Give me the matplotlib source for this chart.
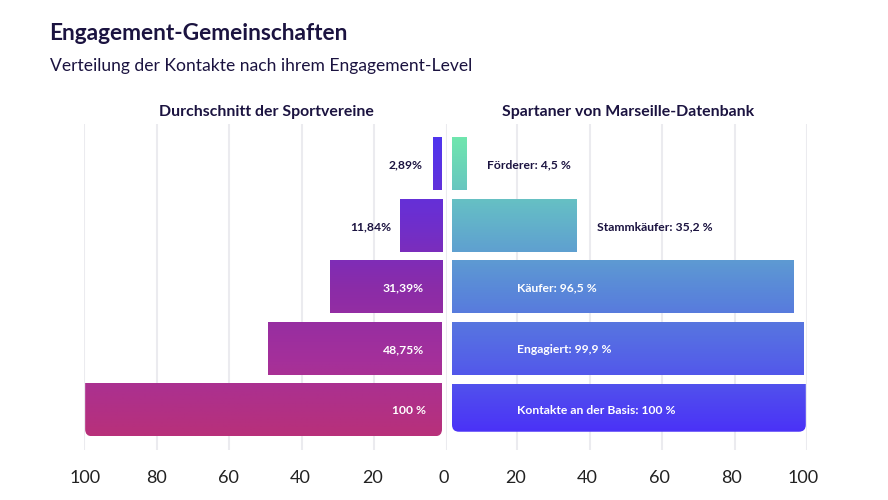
import matplotlib

matplotlib.use("Agg")
import matplotlib.pyplot as plt
import numpy as np
from matplotlib.colors import LinearSegmentedColormap
from matplotlib.patches import FancyBboxPatch

W, H = 888, 500
TITLE = "Engagement-Gemeinschaften"
SUBTITLE = "Verteilung der Kontakte nach ihrem Engagement-Level"
LEFT_HEADER = "Durchschnitt der Sportvereine"
RIGHT_HEADER = "Spartaner von Marseille-Datenbank"

# bar lengths as drawn in the picture, a little off the printed labels
left_values = [2.4, 11.84, 31.39, 48.75, 100]
right_values = [4.2, 35.2, 96.5, 99.4, 100]
left_labels = ["2,89%", "11,84%", "31,39%", "48,75%", "100 %"]
right_labels = [
    "Förderer: 4,5 %",
    "Stammkäufer: 35,2 %",
    "Käufer: 96,5 %",
    "Engagiert: 99,9 %",
    "Kontakte an der Basis: 100 %",
]
tick_values = [-100, -80, -60, -40, -20, 0, 20, 40, 60, 80, 100]

# label anchors in axis units, the original places them by hand
left_label_x = [6.6, 15.4, 6.3, 6.3, 5.8]
right_label_x = [11.7, 42, 20, 20, 20]
LABEL_DROP = 0.015

INK = "#1b1340"
LEFT_BASE = 1.38
RIGHT_BASE = 2.07
BAR_HEIGHT = 0.854
RADIUS_PX = 7

left_cmap = LinearSegmentedColormap.from_list(
    "left", ["#4f35ee", "#6a2fd2", "#8a2ca8", "#a5309a", "#b8307a"]
)
right_cmap = LinearSegmentedColormap.from_list(
    "right", ["#70e6ae", "#64b8c8", "#5a8ad8", "#5460e8", "#4a2ff8"]
)

plt.rcParams["font.family"] = ["Lato", "DejaVu Sans"]


def px_axes(fig, x0, x1, y0, y1):
    """Add axes from pixel edges, y counted from the top."""
    return fig.add_axes([x0 / W, 1 - y1 / H, (x1 - x0) / W, (y1 - y0) / H])


def gradient_bars(ax, values, base, heights, cmap, stretch):
    """Draw bars, then fill them with one vertical gradient over all rows."""
    top_edge, bottom_edge = -0.427, 4.427
    xs_to_px = abs(ax.transData.transform((1, 0))[0] - ax.transData.transform((0, 0))[0])
    ys_to_px = abs(ax.transData.transform((0, 1))[1] - ax.transData.transform((0, 0))[1])
    for i, (value, height) in enumerate(zip(values, heights)):
        top = i - BAR_HEIGHT / 2
        width = value * stretch
        ax.barh(top, width, height=height, left=base, align="edge", color="none", zorder=2)
        f0 = (top - top_edge) / (bottom_edge - top_edge)
        f1 = (top + height - top_edge) / (bottom_edge - top_edge)
        grad = cmap(np.linspace(f0, f1, 64))[:, None, :]
        im = ax.imshow(
            grad,
            extent=(base, base + width, top + height, top),
            aspect="auto",
            interpolation="bilinear",
            zorder=2,
        )
        if i == len(values) - 1:
            # rounded bottom corners only, the clip box runs past the bar top
            rx = RADIUS_PX / xs_to_px
            ry = RADIUS_PX / ys_to_px
            clip = FancyBboxPatch(
                (base + rx, top - 1),
                width - 2 * rx,
                height + 1 - ry,
                boxstyle=f"round,pad={rx},rounding_size={rx}",
                mutation_aspect=ry / rx,
                transform=ax.transData,
                facecolor="none",
                edgecolor="none",
            )
            ax.add_patch(clip)
            im.set_clip_path(clip)


def style_axis(ax, xlim):
    ax.set_xlim(*xlim)
    ax.set_ylim(4.65, -0.65)
    ax.set_xticks([0, 20, 40, 60, 80, 100])
    ax.set_yticks([])
    ax.tick_params(length=0, labelbottom=False)
    ax.grid(axis="x", color="#ebebef", linewidth=1.5, zorder=0)
    ax.set_axisbelow(True)
    ax.patch.set_alpha(0)
    for spine in ax.spines.values():
        spine.set_visible(False)


fig = plt.figure(figsize=(W / 100, H / 100), dpi=100, facecolor="white")

ax_left = px_axes(fig, 84, 447, 124, 450)
ax_right = px_axes(fig, 444.5, 807, 124, 450)
style_axis(ax_left, (100, 0))
style_axis(ax_right, (0, 100))
ax_right.set_xticks([20, 40, 60, 80, 100])

left_heights = [BAR_HEIGHT] * 5
right_heights = [BAR_HEIGHT] * 4 + [0.78]
gradient_bars(ax_left, left_values, LEFT_BASE, left_heights, left_cmap, 0.983)
gradient_bars(ax_right, right_values, RIGHT_BASE, right_heights, right_cmap, 0.976)
ax_left.set_xlim(100, 0)
ax_left.set_ylim(4.65, -0.65)
ax_right.set_xlim(0, 100)
ax_right.set_ylim(4.65, -0.65)

for i, (label, x) in enumerate(zip(left_labels, left_label_x)):
    color = "white" if left_values[i] > 20 else INK
    ax_left.text(x, i + LABEL_DROP, label, ha="right", va="center", fontsize=8.7,
                 fontweight="bold", color=color, zorder=3)
for i, (label, x) in enumerate(zip(right_labels, right_label_x)):
    color = "white" if right_values[i] > 40 else INK
    ax_right.text(x, i + LABEL_DROP, label, ha="left", va="center", fontsize=8.7,
                  fontweight="bold", color=color, zorder=3)

# tick labels sit on their own evenly spaced scale, not quite under the grid
ax_ticks = px_axes(fig, 85, 803, 450, 451)
ax_ticks.set_xlim(-100, 100)
ax_ticks.set_yticks([])
ax_ticks.set_xticks(tick_values)
ax_ticks.set_xticklabels([str(abs(v)) for v in tick_values])
ax_ticks.tick_params(length=0, pad=13.5, labelsize=13, labelcolor="#222222")
ax_ticks.patch.set_alpha(0)
for spine in ax_ticks.spines.values():
    spine.set_visible(False)

fig.text(49.5 / W, 1 - 33 / H, TITLE, fontsize=16.3, fontweight="bold", color=INK, va="center")
fig.text(50 / W, 1 - 66 / H, SUBTITLE, fontsize=12.6, color=INK, va="center")
fig.text(266 / W, 1 - 112 / H, LEFT_HEADER, fontsize=11.4, fontweight="bold",
         color=INK, ha="center", va="center")
fig.text(628 / W, 1 - 112 / H, RIGHT_HEADER, fontsize=11.4, fontweight="bold",
         color=INK, ha="center", va="center")

fig.savefig("out.png", dpi=100)
